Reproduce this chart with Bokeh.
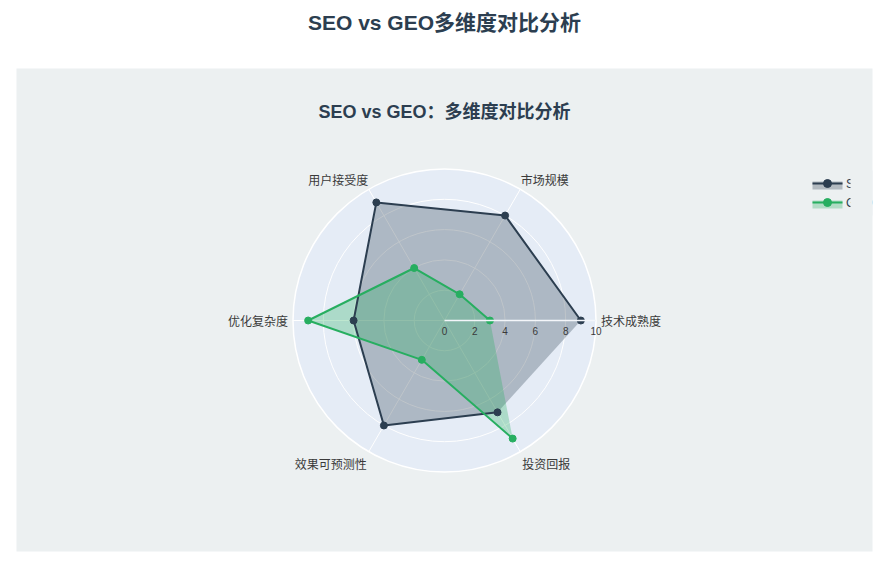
import numpy as np
from bokeh.plotting import figure
from bokeh.models import Range1d
from bokeh.core.properties import value
from bokeh.embed import file_html
from bokeh.resources import INLINE

# ---------------- data ----------------
categories = ["技术成熟度", "市场规模", "用户接受度", "优化复杂度", "效果可预测性", "投资回报"]
seo_values = [9, 8, 9, 6, 8, 7]
geo_values = [3, 2, 4, 9, 3, 9]
series_names = ["SEO", "GEO"]
radial_ticks = [0, 2, 4, 6, 8, 10]
page_title = "SEO vs GEO多维度对比分析"
chart_title = "SEO vs GEO：多维度对比分析"

# ---------------- layout constants ----------------
W, H = 880, 558
ORG = 0                    # page px of the canvas origin
CX, CY = 444, 320          # page px of polar centre
RMAX = 10
PX = 15.15                 # px per radial unit
FONT = value("Liberation Sans, 'Noto Sans CJK SC'")
CJK = value("'Noto Sans CJK SC'")
DARK = "#2C3E50"
GREEN = "#27AE60"
PANEL = "#ECF0F1"
POLARBG = "#E5ECF6"
TXT = "#3a3a3a"


def ux(px):
    return (px - CX) / PX


def uy(py):
    return (CY - py) / PX


p = figure(width=W, height=H,
           x_range=Range1d(ux(ORG), ux(ORG + W)), y_range=Range1d(uy(ORG + H), uy(ORG)),
           output_backend="svg", toolbar_location=None, min_border=0,
           x_axis_location=None, y_axis_location=None)
p.grid.visible = False
p.outline_line_color = None
p.background_fill_color = "white"
p.border_fill_color = "white"

# grey panel
p.quad(left=ux(16), right=ux(872), top=uy(68), bottom=uy(551),
       fill_color=PANEL, line_color=None)

# polar background and grid
p.circle(x=[0], y=[0], radius=[RMAX], fill_color=POLARBG, line_color=None)
n = len(categories)
angles = np.deg2rad(np.arange(n) * 360.0 / n)
p.segment(x0=[0] * n, y0=[0] * n, x1=RMAX * np.cos(angles), y1=RMAX * np.sin(angles),
          line_color="white", line_width=1)
rings = [t for t in radial_ticks if 0 < t < RMAX]
p.circle(x=[0] * len(rings), y=[0] * len(rings), radius=rings,
         fill_color=None, line_color="white", line_width=1)
p.circle(x=[0], y=[0], radius=[RMAX], fill_color=None, line_color="white", line_width=1.5)

# series
series = [(seo_values, DARK), (geo_values, GREEN)]
coords = []
for vals, col in series:
    v = np.array(vals, dtype=float)
    coords.append((v * np.cos(angles), v * np.sin(angles), col))
for xs, ys, col in coords:
    p.patch(xs, ys, fill_color=col, fill_alpha=0.3, line_color=None)
for xs, ys, col in coords:
    p.line(xs, ys, line_color=col, line_width=2)
    p.scatter(xs, ys, size=7, marker="circle", fill_color=col, line_color=col)

# radial axis (above traces)
p.segment(x0=[0], y0=[0], x1=[RMAX], y1=[0], line_color="#F4F6FA", line_width=1.5)
p.text(x=radial_ticks, y=[uy(CY + 10)] * len(radial_ticks),
       text=[str(t) for t in radial_ticks], text_align="center", text_baseline="middle",
       text_font=FONT, text_font_size="10px", text_color=TXT)

# angular labels
lx, ly, la, lb = [], [], [], []
for th in angles:
    c, s = np.cos(th), np.sin(th)
    if abs(s) < 0.1:
        off, base = 5, "middle"
    elif s > 0:
        off, base = 1, "bottom"
    else:
        off, base = 4, "top"
    r = RMAX + off / PX
    lx.append(r * c)
    ly.append(r * s)
    la.append("center" if abs(c) < 0.01 else ("left" if c > 0 else "right"))
    lb.append(base)
for x, y, a, b, t in zip(lx, ly, la, lb, categories):
    p.text(x=[x], y=[y], text=[t], text_align=a, text_baseline=b,
           text_font=CJK, text_font_size="12px", text_color=TXT)

# legend (manual, clipped like the reference)
for i, (name, (vals, col)) in enumerate(zip(series_names, series)):
    yl = 183 + 19 * i
    p.quad(left=ux(812), right=ux(842), top=uy(yl - 2), bottom=uy(yl + 6),
           fill_color=col, fill_alpha=0.3, line_color=None)
    p.segment(x0=[ux(812)], y0=[uy(yl)], x1=[ux(842)], y1=[uy(yl)], line_color=col, line_width=2)
    p.scatter([ux(827)], [uy(yl)], size=8, marker="circle", fill_color=col, line_color=col)
    p.text(x=[ux(845.5)], y=[uy(yl)], text=[name], text_align="left", text_baseline="middle",
           text_font=FONT, text_font_size="12px", text_color=DARK)
p.quad(left=ux(850), right=ux(872), top=uy(170), bottom=uy(215),
       fill_color=PANEL, line_color=None)

# titles
p.text(x=[0], y=[uy(22)], text=[page_title], text_align="center", text_baseline="middle",
       text_font=FONT, text_font_size="21px", text_font_style="bold", text_color=DARK)
p.text(x=[0], y=[uy(111)], text=[chart_title], text_align="center", text_baseline="middle",
       text_font=FONT, text_font_size="18px", text_font_style="bold", text_color=DARK)

open("out.html", "w").write(file_html(p, INLINE))
